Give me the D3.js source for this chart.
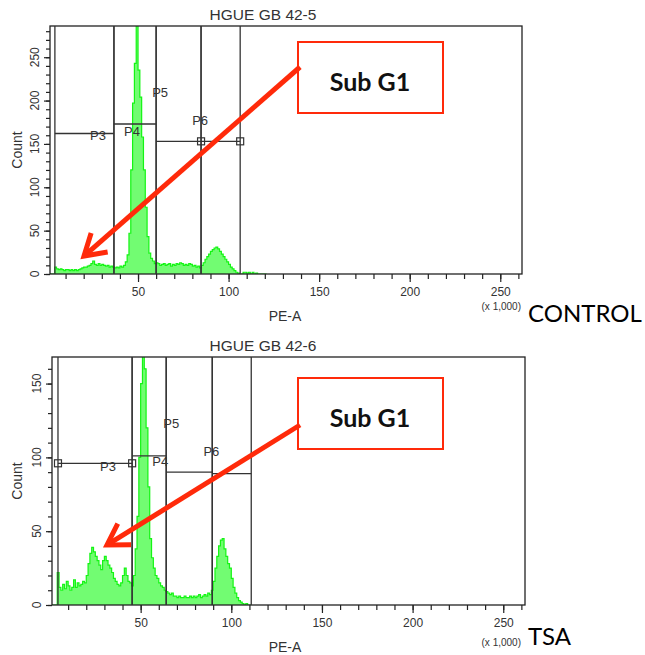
<!DOCTYPE html>
<html>
<head>
<meta charset="utf-8">
<script src="https://cdn.jsdelivr.net/npm/d3@7"></script>
<style>
  body { margin: 0; background: #fff; }
  svg text { font-family: "Liberation Sans", Arial, sans-serif; fill: #222; }
</style>
</head>
<body>
<svg width="645" height="655"></svg>
<script>
// histogram counts, one bin per 1,000 of PE-A, first bin starts at 1
var binStart = 1;
var controlCounts = [
  0, 0, 0, 8, 6, 5, 6, 5, 4, 5,
  5, 4, 5, 4, 5, 4, 5, 6, 7, 8,
  8, 9, 10, 12, 15, 11, 10, 12, 10, 11,
  10, 9, 10, 8, 9, 8, 7, 8, 7, 9,
  8, 10, 14, 22, 47, 120, 197, 243, 300, 235,
  204, 158, 120, 77, 43, 24, 18, 15, 12, 13,
  12, 10, 11, 12, 10, 11, 12, 9, 11, 10,
  12, 11, 13, 12, 10, 11, 10, 12, 11, 9,
  10, 8, 9, 7, 10, 13, 17, 20, 23, 26,
  28, 30, 31, 29, 26, 23, 20, 17, 14, 11,
  8, 6, 4, 2, 1, 0, 0, 2, 2, 1,
  2, 0, 2, 0, 1, 0, 0, 0, 0, 0
];
var tsaCounts = [
  0, 0, 0, 22, 12, 10, 14, 11, 16, 13,
  10, 12, 17, 12, 15, 13, 14, 16, 15, 20,
  28, 35, 39, 36, 33, 30, 27, 24, 30, 33,
  30, 27, 25, 22, 18, 16, 14, 13, 15, 20,
  25, 20, 16, 15, 13, 20, 38, 60, 100, 150,
  175, 160, 120, 80, 45, 32, 25, 20, 18, 15,
  13, 12, 10, 9, 8, 7, 8, 6, 6, 5,
  6, 5, 5, 6, 5, 5, 6, 5, 6, 5,
  6, 7, 5, 6, 7, 6, 8, 7, 10, 16,
  25, 33, 40, 44, 45, 38, 33, 28, 25, 18,
  12, 8, 5, 3, 2, 1, 0, 1, 0, 0
];

// interval gates: from / to on PE-A (x 1,000), height in counts
var gateNames = ["P3", "P4", "P5", "P6"];
var controlGateFrom = [4.1, 36.7, 60.0, 84.8];
var controlGateTo = [36.7, 60.0, 84.8, 106.4];
var controlGateLevel = [162, 173, 153, 153];
var controlLabelX = [27.9, 46.7, 62.2, 84.3];
var controlLabelLevel = [154, 159, 204, 172];

var tsaGateFrom = [4.4, 45.3, 64.1, 89.5];
var tsaGateTo = [45.3, 64.1, 89.5, 111.0];
var tsaGateLevel = [96, 101, 90, 89];
var tsaLabelX = [32.0, 60.8, 66.9, 89.0];
var tsaLabelLevel = [90.5, 94, 119.6, 100.7];

var xMajor = [50, 100, 150, 200, 250];
var controlYMajor = [0, 50, 100, 150, 200, 250];
var tsaYMajor = [0, 50, 100, 150];

var svg = d3.select("svg");
var red = "#ff2a0a";

function drawPanel(p) {
  var x = d3.scaleLinear().domain(p.xDomain).range([p.left, p.right]);
  var y = d3.scaleLinear().domain([0, p.yMax]).range([p.bottom, p.top]);
  var g = svg.append("g");

  g.append("clipPath").attr("id", p.id)
    .append("rect")
    .attr("x", p.left).attr("y", p.top)
    .attr("width", p.right - p.left).attr("height", p.bottom - p.top);

  // histogram
  var pts = p.counts.map(function(c, i) { return { v: binStart + i, c: c }; });
  pts.push({ v: binStart + p.counts.length, c: 0 });
  var area = d3.area().curve(d3.curveStepAfter)
    .x(function(d) { return x(d.v); })
    .y0(y(0))
    .y1(function(d) { return y(d.c); });
  var line = d3.line().curve(d3.curveStepAfter)
    .x(function(d) { return x(d.v); })
    .y(function(d) { return y(d.c); });
  var hist = g.append("g").attr("clip-path", "url(#" + p.id + ")");
  hist.append("path").datum(pts).attr("d", area)
    .style("fill", "#72fc72");
  hist.append("path").datum(pts).attr("d", line)
    .style("fill", "none").style("stroke", "#14f514").style("stroke-width", 1.2);

  // axes
  var xMinor = d3.range(10, 261, 10);
  g.append("g").attr("transform", "translate(0," + p.bottom + ")")
    .call(d3.axisBottom(x).tickValues(xMinor).tickSize(5).tickFormat(""))
    .call(function(a) { a.select(".domain").remove(); });
  g.append("g").attr("transform", "translate(0," + p.bottom + ")")
    .call(d3.axisBottom(x).tickValues(xMajor).tickSize(8).tickPadding(5))
    .call(function(a) {
      a.select(".domain").remove();
      a.selectAll("text").style("font-size", "12px").style("fill", "#333");
    });

  var yMinor = d3.range(0, p.yMax, 10);
  g.append("g").attr("transform", "translate(" + p.left + ",0)")
    .call(d3.axisLeft(y).tickValues(yMinor).tickSize(4).tickFormat(""))
    .call(function(a) { a.select(".domain").remove(); });
  g.append("g").attr("transform", "translate(" + p.left + ",0)")
    .call(d3.axisLeft(y).tickValues(p.yMajor).tickSize(6).tickFormat(""))
    .call(function(a) { a.select(".domain").remove(); });
  g.selectAll(".ylab").data(p.yMajor).enter().append("text")
    .attr("transform", function(d) { return "translate(" + (p.left - 11) + "," + y(d) + ") rotate(-90)"; })
    .attr("text-anchor", "middle")
    .style("font-size", "12px").style("fill", "#333")
    .text(function(d) { return d; });
  g.selectAll(".tick line").style("stroke", "#222").style("stroke-width", 1.2);

  // frame
  g.append("rect")
    .attr("x", p.left).attr("y", p.top)
    .attr("width", p.right - p.left).attr("height", p.bottom - p.top)
    .style("fill", "none").style("stroke", "#222").style("stroke-width", 1.3);

  // gates
  var gl = g.append("g").style("stroke", "#333").style("stroke-width", 1.3);
  gateNames.forEach(function(name, i) {
    [p.from[i], p.to[i]].forEach(function(v) {
      gl.append("line")
        .attr("x1", x(v)).attr("x2", x(v))
        .attr("y1", p.top).attr("y2", p.bottom);
    });
    gl.append("line")
      .attr("x1", x(p.from[i])).attr("x2", x(p.to[i]))
      .attr("y1", y(p.level[i])).attr("y2", y(p.level[i]));
    g.append("text")
      .attr("x", x(p.labelX[i])).attr("y", y(p.labelLevel[i]))
      .attr("text-anchor", "middle")
      .style("font-size", "13px").style("fill", "#333")
      .text(name);
  });
  var sel = p.selected;
  [p.from[sel], p.to[sel]].forEach(function(v) {
    g.append("rect")
      .attr("x", x(v) - 3.5).attr("y", y(p.level[sel]) - 3.5)
      .attr("width", 7).attr("height", 7)
      .style("fill", "none").style("stroke", "#333").style("stroke-width", 1.2);
  });

  // titles
  g.append("text").attr("x", 263).attr("y", p.top - 6)
    .attr("text-anchor", "middle").style("font-size", "15.5px").style("fill", "#333")
    .text(p.title);
  g.append("text")
    .attr("transform", "translate(22," + (p.top + p.bottom) / 2 + ") rotate(-90)")
    .attr("text-anchor", "middle").style("font-size", "14px").style("fill", "#333")
    .text("Count");
  g.append("text").attr("x", 285).attr("y", p.bottom + 47)
    .attr("text-anchor", "middle").style("font-size", "14px").style("fill", "#333")
    .text("PE-A");
  g.append("text").attr("x", 521).attr("y", p.bottom + p.unitGap)
    .attr("text-anchor", "end").style("font-size", "10px").style("fill", "#333")
    .text("(x 1,000)");
  g.append("text").attr("x", 528).attr("y", p.bottom + p.sampleGap)
    .style("font-family", "Lato, 'Open Sans', sans-serif")
    .style("font-size", "24px").style("fill", "#000")
    .text(p.sample);

  // annotation box and arrow
  g.append("rect")
    .attr("x", 298).attr("y", p.boxTop)
    .attr("width", 145).attr("height", 71)
    .style("fill", "#fff").style("stroke", red).style("stroke-width", 2);
  g.append("text").attr("x", 370).attr("y", p.boxTop + 49)
    .attr("text-anchor", "middle")
    .style("font-family", "Lato, 'Open Sans', sans-serif")
    .style("font-weight", "bold").style("font-size", "25px").style("fill", "#111")
    .text("Sub G1");

  var a0 = p.arrowFrom, a1 = p.arrowTo;
  var ang = Math.atan2(a1[1] - a0[1], a1[0] - a0[0]);
  var len = 24, spread = 0.55;
  g.append("line")
    .attr("x1", a0[0]).attr("y1", a0[1])
    .attr("x2", a1[0] - Math.cos(ang) * 3).attr("y2", a1[1] - Math.sin(ang) * 3)
    .style("stroke", red).style("stroke-width", 5);
  var head = [
    [a1[0] - len * Math.cos(ang - spread), a1[1] - len * Math.sin(ang - spread)],
    a1,
    [a1[0] - len * Math.cos(ang + spread), a1[1] - len * Math.sin(ang + spread)]
  ];
  g.append("path")
    .attr("d", d3.line()(head))
    .style("fill", "none").style("stroke", red).style("stroke-width", 5)
    .style("stroke-linejoin", "miter").style("stroke-linecap", "butt");
}

drawPanel({
  id: "clipTop", title: "HGUE GB 42-5", sample: "CONTROL",
  counts: controlCounts, xDomain: [1.4, 262], yMax: 286, yMajor: controlYMajor,
  left: 50, right: 522, top: 26, bottom: 274,
  from: controlGateFrom, to: controlGateTo, level: controlGateLevel,
  labelX: controlLabelX, labelLevel: controlLabelLevel, selected: 3,
  unitGap: 36, sampleGap: 48,
  boxTop: 42, arrowFrom: [300, 67], arrowTo: [84, 256]
});

drawPanel({
  id: "clipBottom", title: "HGUE GB 42-6", sample: "TSA",
  counts: tsaCounts, xDomain: [1.1, 262], yMax: 168, yMajor: tsaYMajor,
  left: 52, right: 525, top: 357, bottom: 605,
  from: tsaGateFrom, to: tsaGateTo, level: tsaGateLevel,
  labelX: tsaLabelX, labelLevel: tsaLabelLevel, selected: 0,
  unitGap: 41, sampleGap: 40,
  boxTop: 378, arrowFrom: [300, 425], arrowTo: [107, 545]
});
</script>
</body>
</html>
